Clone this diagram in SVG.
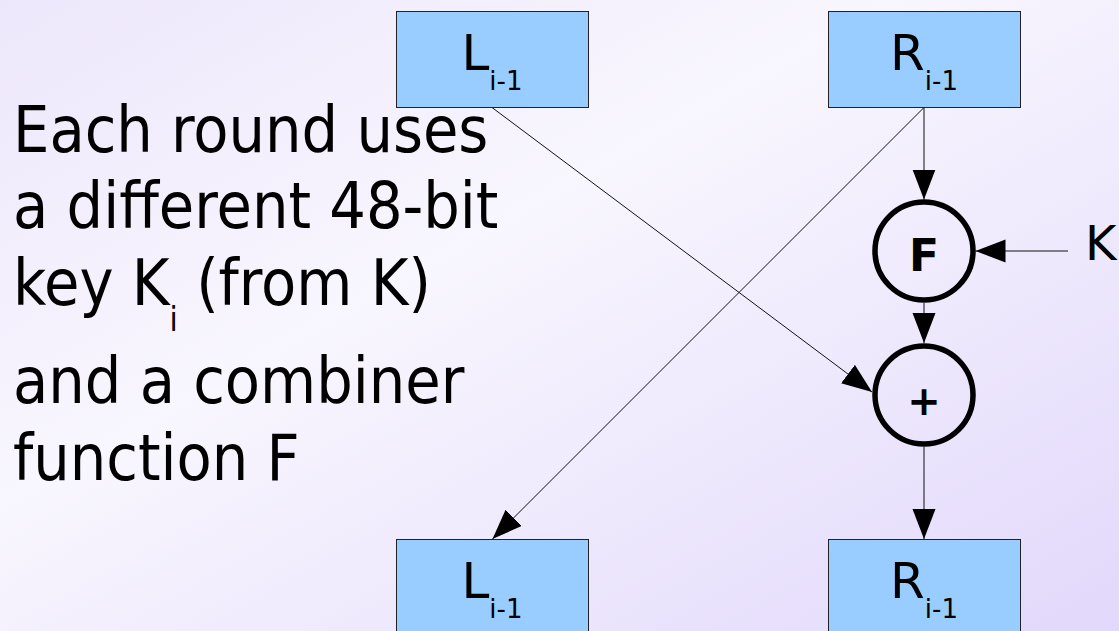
<svg xmlns="http://www.w3.org/2000/svg" width="1119" height="631" viewBox="0 0 1119 631">
  <defs>
    <linearGradient id="bg" x1="0" y1="0" x2="1" y2="1">
      <stop offset="0" stop-color="#ede7fb"/>
      <stop offset="0.4" stop-color="#f8f6fe"/>
      <stop offset="1" stop-color="#e2d8fb"/>
    </linearGradient>
    <marker id="arrow" markerUnits="userSpaceOnUse" markerWidth="31" markerHeight="24" refX="30" refY="11.5" orient="auto">
      <path d="M0,0 L30,11.5 L0,23 Z" fill="#000"/>
    </marker>
    <style>
      .box { fill: #99ccff; stroke: #222; stroke-width: 1; }
      .lbl { font-family: "DejaVu Sans", sans-serif; font-size: 50px; fill: #000; text-anchor: middle; }
      .sub { font-size: 26px; }
      .op { fill: none; stroke: #000; stroke-width: 5.5; }
      .opt { font-family: "DejaVu Sans", sans-serif; font-weight: bold; fill: #000; text-anchor: middle; }
      .conn { stroke: #111; stroke-width: 1; fill: none; marker-end: url(#arrow); }
      .body { font-family: "DejaVu Sans Condensed", "DejaVu Sans", sans-serif; font-stretch: condensed; font-size: 64px; fill: #000; }
    </style>
  </defs>
  <rect x="0" y="0" width="1119" height="631" fill="url(#bg)"/>

  <g id="connectors">
    <line class="conn" x1="492" y1="107.5" x2="872" y2="392"/>
    <line class="conn" x1="924" y1="107.5" x2="492.5" y2="539"/>
    <line class="conn" x1="924" y1="107.5" x2="924" y2="199.5"/>
    <line class="conn" x1="924" y1="303" x2="924" y2="343"/>
    <line class="conn" x1="1068" y1="251" x2="975.5" y2="251"/>
    <line class="conn" x1="924" y1="447" x2="924" y2="539"/>
  </g>

  <g id="node-L-top">
    <rect class="box" x="396.5" y="11.5" width="192" height="96"/>
    <text class="lbl" x="492" y="70">L<tspan class="sub" dy="20">i-1</tspan></text>
  </g>
  <g id="node-R-top">
    <rect class="box" x="828.5" y="11.5" width="192" height="96"/>
    <text class="lbl" x="924" y="70">R<tspan class="sub" dy="20">i-1</tspan></text>
  </g>
  <g id="node-F">
    <circle class="op" cx="924" cy="251" r="49"/>
    <text class="opt" x="924" y="271" font-size="44">F</text>
  </g>
  <g id="node-plus">
    <circle class="op" cx="924" cy="395" r="49"/>
    <text class="opt" x="924" y="415" font-size="40">+</text>
  </g>
  <g id="node-K">
    <text class="lbl" x="1085" y="260" style="text-anchor:start;font-size:48px">K</text>
  </g>
  <g id="node-L-bottom">
    <rect class="box" x="396.5" y="539.5" width="192" height="96"/>
    <text class="lbl" x="492" y="598">L<tspan class="sub" dy="20">i-1</tspan></text>
  </g>
  <g id="node-R-bottom">
    <rect class="box" x="828.5" y="539.5" width="192" height="96"/>
    <text class="lbl" x="924" y="598">R<tspan class="sub" dy="20">i-1</tspan></text>
  </g>

  <g id="caption">
    <text class="body" x="13" y="152">Each round uses</text>
    <text class="body" x="13" y="228">a different 48-bit</text>
    <text class="body" x="13" y="305">key K<tspan font-size="33" dy="26">i</tspan><tspan dy="-26"> (from K)</tspan></text>
    <text class="body" x="13" y="403">and a combiner</text>
    <text class="body" x="13" y="480">function F</text>
  </g>
</svg>
